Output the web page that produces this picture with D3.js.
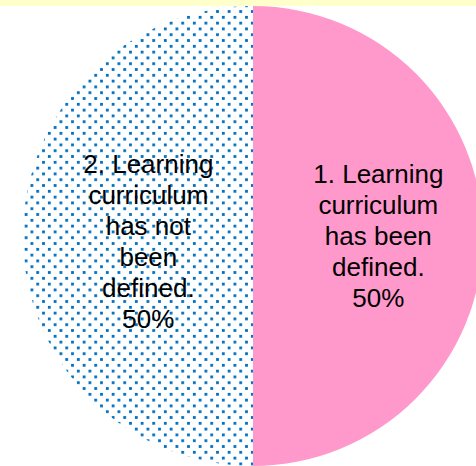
<!DOCTYPE html>
<html>
<head>
<meta charset="utf-8">
<script src="https://cdn.jsdelivr.net/npm/d3@7"></script>
<style>
  html, body { margin: 0; padding: 0; background: #ffffff; }
  svg { display: block; }
</style>
</head>
<body>
<script>
// ---- data ----
const categories = [
  "1. Learning curriculum has been defined.",
  "2. Learning curriculum has not been defined."
];
const values = [50, 50];
const labelLines = [
  ["1. Learning", "curriculum", "has been", "defined.", "50%"],
  ["2. Learning", "curriculum", "has not", "been", "defined.", "50%"]
];

// ---- layout ----
const W = 476, H = 466;
const cx = 253, cy = 236, R = 230;
const labelRadiusRatio = [0.545, 0.455];
const labelYShift = [0, 5];
const lineHeight = 31;

const svg = d3.select("body").append("svg")
  .attr("width", W).attr("height", H);

const defs = svg.append("defs");
const P = 11.6, ds = 2.8;
const pat = defs.append("pattern")
  .attr("id", "dots")
  .attr("patternUnits", "userSpaceOnUse")
  .attr("x", 5.1 - 1.4).attr("y", 1.7 - 1.4)
  .attr("width", P).attr("height", P);
pat.append("rect").attr("width", P).attr("height", P).attr("fill", "#ffffff");
pat.append("rect").attr("x", 0).attr("y", 0).attr("width", ds).attr("height", ds).attr("fill", "#0070C0");
pat.append("rect").attr("x", P / 2).attr("y", P / 2).attr("width", ds).attr("height", ds).attr("fill", "#0070C0");

const fills = ["#FF99CC", "url(#dots)"];

const pie = d3.pie().sort(null).value(d => d);
const arcs = pie(values);
const arc = d3.arc().innerRadius(0).outerRadius(R);

const g = svg.append("g").attr("transform", `translate(${cx},${cy})`);

g.selectAll("path.slice")
  .data(arcs)
  .enter().append("path")
  .attr("class", "slice")
  .attr("d", arc)
  .attr("fill", (d, i) => fills[i]);

// labels
arcs.forEach((d, i) => {
  const la = d3.arc().innerRadius(R * labelRadiusRatio[i]).outerRadius(R * labelRadiusRatio[i]);
  const [lx, ly0] = la.centroid(d);
  const ly = ly0 + labelYShift[i];
  const lines = labelLines[i];
  const startY = ly - (lines.length - 1) * lineHeight / 2;
  const t = g.append("text")
    .attr("text-anchor", "middle")
    .attr("font-family", "Liberation Sans, Arial, sans-serif")
    .attr("font-size", 26)
    .attr("fill", "#000000");
  lines.forEach((ln, j) => {
    t.append("tspan")
      .attr("x", lx)
      .attr("y", startY + j * lineHeight)
      .attr("dy", "0.35em")
      .text(ln);
  });
});

// top band
svg.append("rect")
  .attr("x", 0).attr("y", 0)
  .attr("width", W).attr("height", 6)
  .attr("fill", "#FFFFCC");
</script>
</body>
</html>
